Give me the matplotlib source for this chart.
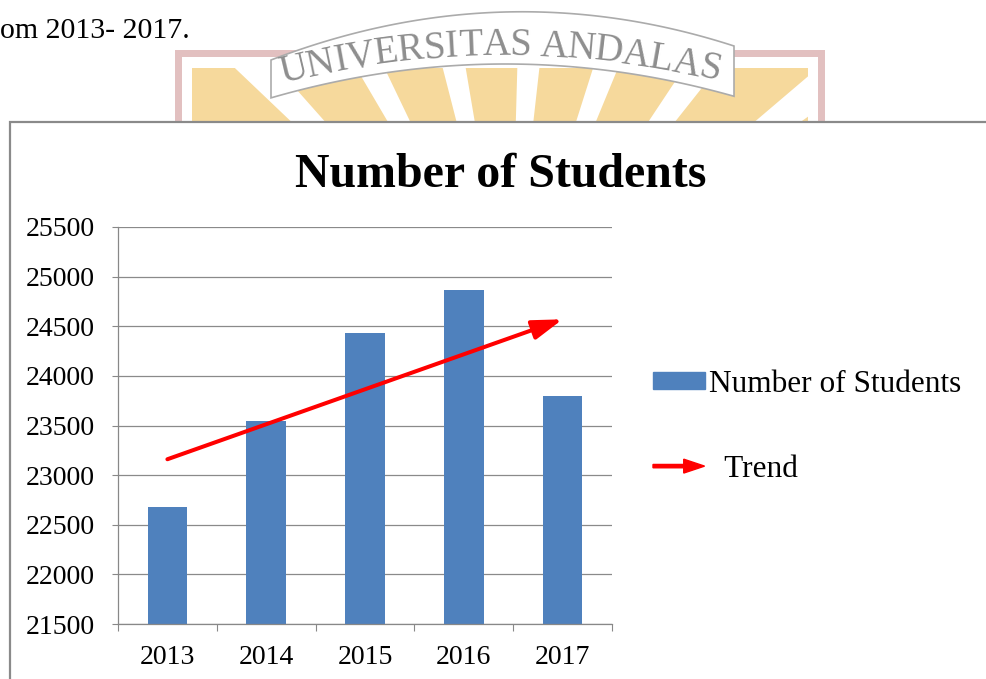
import numpy as np
import matplotlib
matplotlib.use('Agg')
import matplotlib.pyplot as plt
import matplotlib.patches as mpatches
import matplotlib.transforms as mtransforms
from matplotlib.legend_handler import HandlerPatch

# data
years = ['2013', '2014', '2015', '2016', '2017']
students = [22680, 23550, 24435, 24870, 23800]
trend_start = 23160   # hand drawn trend arrow, value at 2013
trend_end = 24570     # ... and at 2017
yticks = [21500, 22000, 22500, 23000, 23500, 24000, 24500, 25000, 25500]

W, H = 986, 679
bar_col = '#4F81BD'
gray = '#888888'

plt.rcParams['font.family'] = ['Liberation Serif', 'DejaVu Serif']

fig = plt.figure(figsize=(W / 100, H / 100), dpi=100)
fig.patch.set_facecolor('white')
# pixel coordinates, origin at top left
px = mtransforms.Affine2D().scale(1, -1).translate(0, H)

# ---- faded university watermark behind the page ----
frame_col = '#e2c0c0'
sun_col = '#f6d99c'
fig.patches.append(mpatches.Rectangle((192, 68), 616, 60, transform=px,
                                      color=sun_col, lw=0, zorder=-6))
clip = mpatches.Rectangle((192, 68), 616, 60, transform=px)
cx, cy = 510, 330
for a in np.arange(-60, 70, 16):
    t1, t2 = np.radians(a - 2.4), np.radians(a + 2.4)
    pts = [(cx, cy), (cx + 420 * np.sin(t1), cy - 420 * np.cos(t1)),
           (cx + 420 * np.sin(t2), cy - 420 * np.cos(t2))]
    ray = mpatches.Polygon(pts, transform=px, color='white', lw=0, zorder=-5)
    ray.set_clip_path(clip)
    fig.patches.append(ray)
for r in [(175, 50, 650, 7), (175, 50, 7, 80), (818, 50, 7, 80)]:
    fig.patches.append(mpatches.Rectangle(r[:2], r[2], r[3], transform=px,
                                          color=frame_col, lw=0, zorder=-4))

bx = np.linspace(271, 734, 80)
top = np.polyval(np.polyfit([271, 505, 734], [60, 12, 46], 2), bx)
bot = np.polyval(np.polyfit([274, 505, 733], [97, 64, 96], 2), bx)
banner = np.vstack([np.column_stack([bx, top]), np.column_stack([bx[::-1], bot[::-1]])])
fig.patches.append(mpatches.Polygon(banner, closed=True, transform=px, fc='white',
                                    ec='#ababab', lw=1.2, zorder=-3))

word = 'UNIVERSITAS ANDALAS'
renderer = fig.canvas.get_renderer()
fp = matplotlib.font_manager.FontProperties(family='Liberation Serif', size=28)
widths = []
for ch in word:
    if ch == ' ':
        widths.append(10.0)
    else:
        widths.append(renderer.get_text_width_height_descent(ch, fp, ismath=False)[0] + 2.5)
widths = np.array(widths)
centers = np.cumsum(widths) - widths / 2
base = np.polyfit([283, 500, 718], [83, 55, 81], 2)
xs = np.linspace(283, 718, 400)
ys = np.polyval(base, xs)
arc = np.concatenate([[0], np.cumsum(np.hypot(np.diff(xs), np.diff(ys)))])
s = centers / widths.sum() * arc[-1]
for ch, si in zip(word, s):
    x = np.interp(si, arc, xs)
    y = np.polyval(base, x)
    slope = np.polyval(np.polyder(base), x)
    rot = np.degrees(np.arctan(-slope))
    fig.text(x, y, ch, transform=px, fontsize=28, color='#8e8e8e', ha='center',
             va='baseline', rotation=rot, rotation_mode='anchor', zorder=-2)

fig.text(0, 1 - 38 / H, 'om 2013- 2017.', fontsize=21.5, ha='left', va='baseline')

# chart border (runs off the page on the right and bottom)
fig.patches.append(mpatches.Rectangle((10, 122), 1100, 700, transform=px, fc='white',
                                      ec='#8a8a8a', lw=1.6, zorder=-1))

# ---- the chart ----
ax = fig.add_axes([118 / W, 1 - 624 / H, 494 / W, 397 / H])
x = np.arange(len(years))
ax.bar(x, students, width=0.4, color=bar_col, zorder=2, label='Number of Students')
ax.annotate('', xy=(4, trend_end), xytext=(0, trend_start),
            arrowprops=dict(arrowstyle='-|>,head_length=1.3,head_width=0.42',
                            mutation_scale=14, lw=2.9, color='red',
                            shrinkA=0, shrinkB=0), zorder=3)

ax.set_ylim(21500, 25500)
ax.set_xlim(-0.5, 4.5)
ax.set_yticks(yticks)
ax.yaxis.grid(True, color='#8a8a8a', lw=0.9)
ax.set_axisbelow(True)
ax.set_xticks(np.arange(-0.5, 5, 1))
ax.set_xticks(x, labels=years, minor=True)
ax.tick_params(axis='y', length=4.5, color=gray, pad=12, labelsize=20)
ax.tick_params(axis='x', which='major', length=5, color=gray, labelbottom=False)
ax.tick_params(axis='x', which='minor', length=0, pad=15, labelsize=20)
for side in ['top', 'right']:
    ax.spines[side].set_visible(False)
for side in ['left', 'bottom']:
    ax.spines[side].set_color(gray)
    ax.spines[side].set_linewidth(0.9)

fig.text(501 / W, 1 - 187 / H, 'Number of Students', fontsize=34.5, weight='bold',
         ha='center', va='baseline')


def make_arrow(legend, orig_handle, xdescent, ydescent, width, height, fontsize):
    return mpatches.FancyArrow(-xdescent, height / 2 - ydescent, width, 0, width=2.4,
                               head_width=10, head_length=15,
                               length_includes_head=True, color='red')


bar_handle = mpatches.Patch(color=bar_col, label='Number of Students')
trend_handle = mpatches.Patch(color='red', label='  Trend')
ax.legend(handles=[bar_handle, trend_handle],
          handler_map={trend_handle: HandlerPatch(patch_func=make_arrow)},
          loc='upper left', bbox_to_anchor=(653 / W, 1 - 370 / H),
          bbox_transform=fig.transFigure, frameon=False, fontsize=22.5,
          borderpad=0, borderaxespad=0, handlelength=1.65, handleheight=0.45,
          handletextpad=0.15, labelspacing=1.8)

fig.savefig('out.png', dpi=100)
